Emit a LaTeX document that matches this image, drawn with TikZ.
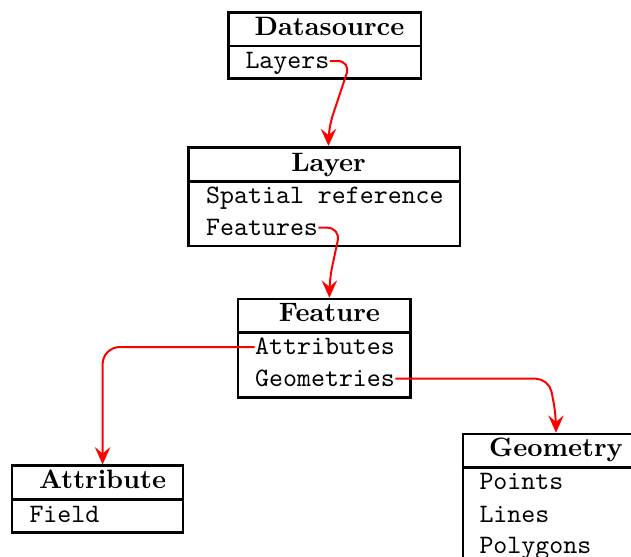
\documentclass[tikz,border=0pt]{standalone}
\usetikzlibrary{arrows.meta,fit,calc}
\begin{document}
\begin{tikzpicture}[x=0.3759pt,y=-0.3759pt,
  box/.style={draw,line width=0.95pt,inner sep=0pt},
  divider/.style={line width=0.95pt},
  ttl/.style={font=\bfseries,inner sep=0pt,anchor=base},
  item/.style={font=\ttfamily,inner sep=0pt,anchor=base west,text height=6pt,text depth=0pt},
  link/.style={red,line width=0.75pt,rounded corners=5pt,-{Stealth[length=6.5pt,width=5.8pt,inset=2.4pt]}}]
\useasboundingbox (0,0) rectangle (631,557);

% Datasource
\node[box,fit={(228.3,12.7)(421,78.7)}] (dsbox) {};
\draw[divider] (dsbox.west |- 0,46) -- (dsbox.east |- 0,46);
\node[ttl] (dst) at (329.5,36) {Datasource};
\node[item] (layers) at (245,69) {Layers};

% Layer
\node[box,fit={(188.3,147.3)(460,246)}] (lbox) {};
\draw[divider] (lbox.west |- 0,181.3) -- (lbox.east |- 0,181.3);
\node[ttl] (lt) at (328.5,171.7) {Layer};
\node[item] (spref) at (205.7,203.3) {Spatial reference};
\node[item] (features) at (205.7,235.7) {Features};

% Feature
\node[box,fit={(238.2,299)(410.5,397.3)}] (fbox) {};
\draw[divider] (fbox.west |- 0,332.3) -- (fbox.east |- 0,332.3);
\node[ttl] (ft) at (329.4,321.7) {Feature};
\node[item] (attrs) at (254.7,355) {Attributes};
\node[item] (geoms) at (254.7,386.7) {Geometries};

% Attribute
\node[box,fit={(12,465.7)(183,532.7)}] (abox) {};
\draw[divider] (abox.west |- 0,499.3) -- (abox.east |- 0,499.3);
\node[ttl] (at) at (102.6,489) {Attribute};
\node[item] (field) at (29,522.3) {Field};

% Geometry
\node[box,fit={(462.8,434)(640,565)}] (gbox) {};
\draw[divider] (gbox.west |- 0,467.3) -- (gbox.east |- 0,467.3);
\node[ttl] (gt) at (556,456.7) {Geometry};
\node[item] (points) at (479,490) {Points};
\node[item] (lines) at (479,522.3) {Lines};
\node[item] (polys) at (479,553.3) {Polygons};

% connectors
\draw[link] (layers.east) -- ++(21,0) -- ($(lt |- lbox.north)+(0,-18)$) -- (lt |- lbox.north);
\draw[link] (features.east) -- ++(22,0) -- ($(ft |- fbox.north)+(0,-18)$) -- (ft |- fbox.north);
\draw[link,rounded corners=6.5pt] (attrs.west) -| (at |- abox.north);
\draw[link] (geoms.east) -- ++(153.6,0) -- ($(gt |- gbox.north)+(0,-18)$) -- (gt |- gbox.north);
\end{tikzpicture}
\end{document}
